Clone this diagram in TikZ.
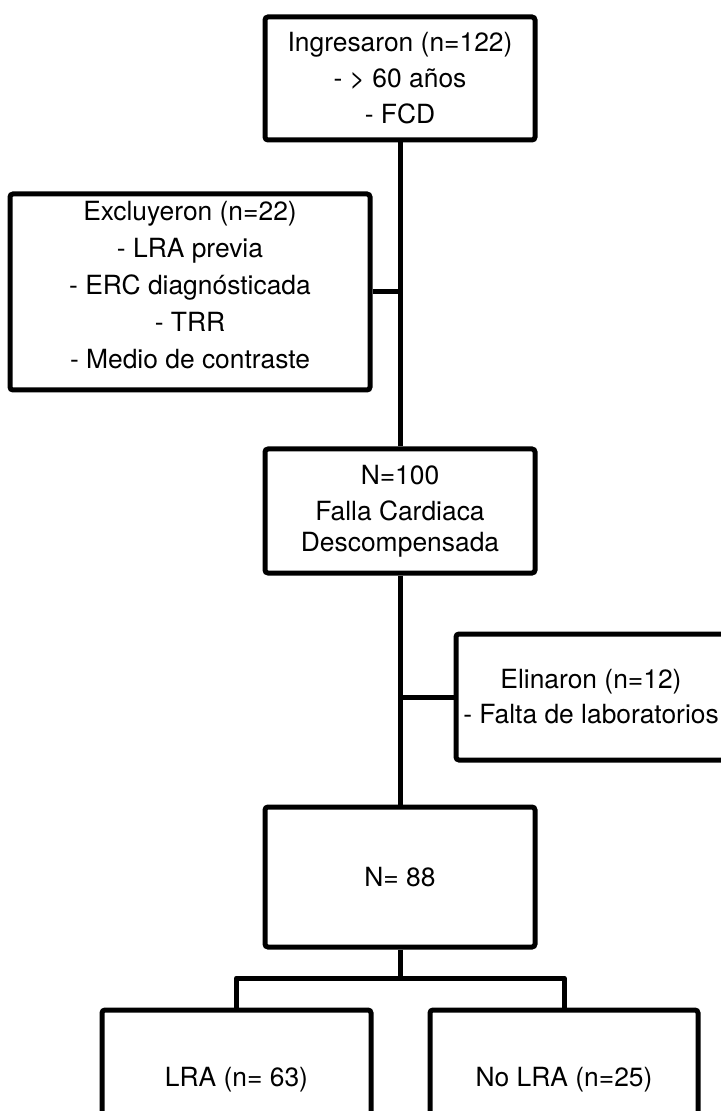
\documentclass[tikz,border=0pt]{standalone}
\usepackage{fontspec}
\setmainfont{TeX Gyre Heros}
\usetikzlibrary{positioning}

\begin{document}
\begin{tikzpicture}[
  x=0.5pt, y=-0.5pt,
  node distance=27pt,
  box/.style={
    rectangle, rounded corners=1.5pt,
    draw=black, line width=2.5pt,
    minimum width=135pt, minimum height=62pt,
    inner sep=0pt, align=center,
    font=\fontsize{13.2}{18}\selectfont
  },
  boxtext/.style={align=center, inner sep=0pt, font=\fontsize{13.2}{18.5}\selectfont},
  link/.style={line width=2.5pt}
]
\useasboundingbox (0,0) rectangle (721,1111);
\clip (0,0) rectangle (721,1111);

% Ingreso
\node[box, minimum height=61.5pt] (ing) at (400,78.5)
  {Ingresaron (n=122)\\- > 60 años\\- FCD};

% Excluidos
\node[box, minimum width=180pt, minimum height=98pt] (excl) at (190,292) {};
\node[boxtext, yshift=3.5pt] (excltxt) at (excl.center)
  {Excluyeron (n=22)\\- LRA previa\\- ERC diagnósticada\\- TRR\\- Medio de contraste};

% Falla cardiaca
\node[box, font=\fontsize{13.2}{15.5}\selectfont] (fcd) at (400,511)
  {N=100\\[2.5pt]Falla Cardiaca\\Descompensada};

% Eliminados
\node[box, minimum height=63pt, font=\fontsize{13.2}{17.5}\selectfont] (elim) at (591,697)
  {Elinaron (n=12)\\- Falta de laboratorios};

% Muestra final
\node[box, minimum height=70pt] (final) at (400,877) {N= 88};

% Grupos
\node[box, minimum width=134.5pt, minimum height=70pt] (lra) at (236.5,1080) {LRA (n= 63)};
\node[box, minimum width=134pt, minimum height=70pt, right=of lra] (nolra) {No LRA (n=25)};

% Lineas
\coordinate (split) at (400,978);
\draw[link] (ing.south) -- (fcd.north);
\draw[link] (fcd.south) -- (final.north);
\draw[link] (excl.east) -- (excl.east -| ing.south);
\draw[link] (elim.west) -- (elim.west -| fcd.south);
\draw[link] (final.south) -- (split);
\draw[link, line join=round] (lra.north) |- (split) -| (nolra.north);

\end{tikzpicture}
\end{document}
